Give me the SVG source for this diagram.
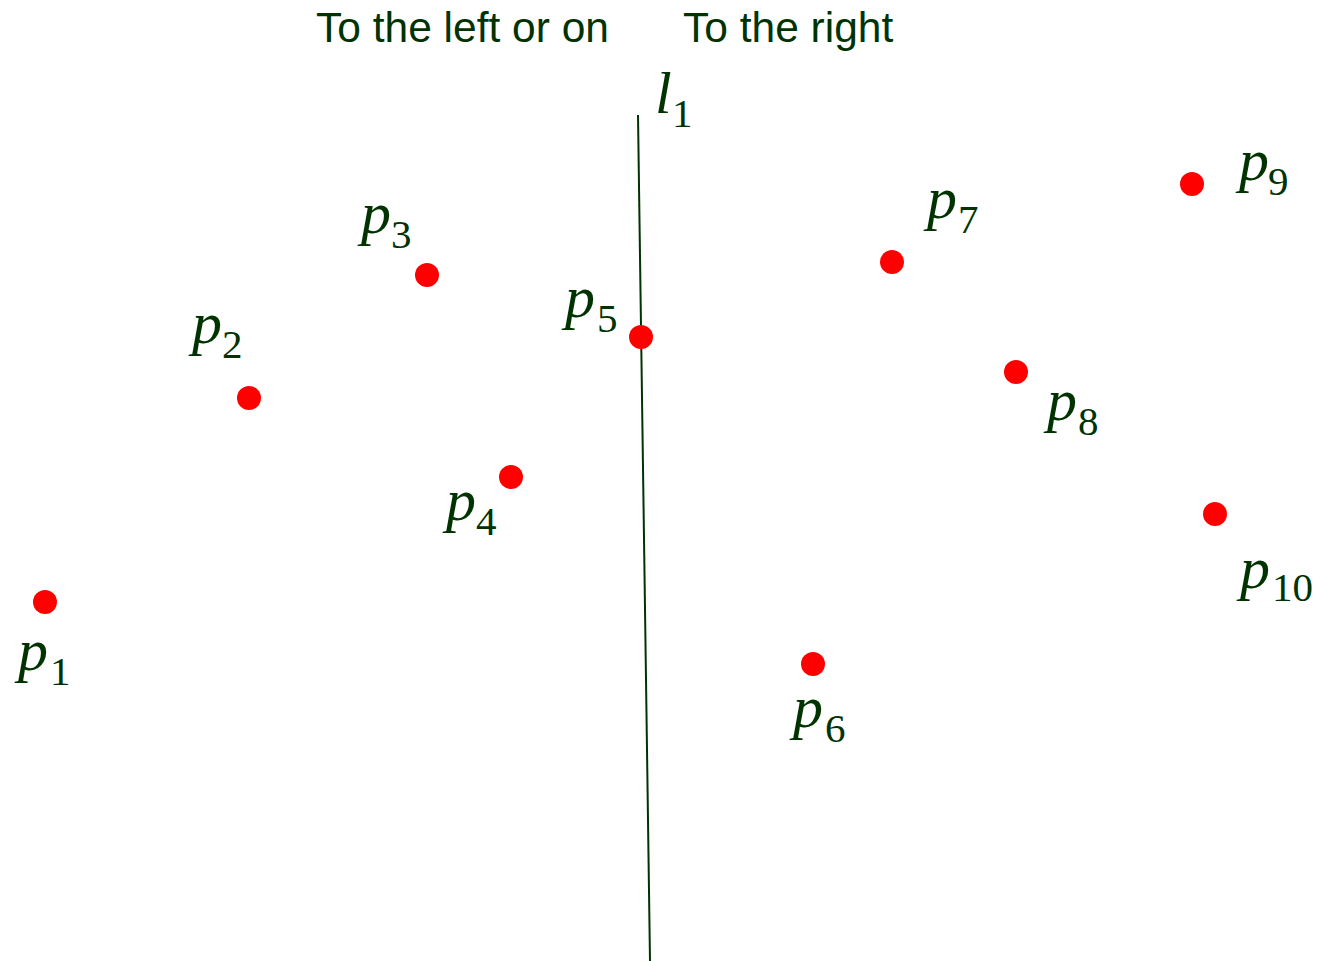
<svg xmlns="http://www.w3.org/2000/svg" width="1326" height="961" viewBox="0 0 1326 961">
<style>
.hdr{font-family:"Liberation Sans",Arial,sans-serif;font-size:42.5px;fill:#003300}
.m{font-family:"Liberation Serif","DejaVu Serif",serif;font-style:italic;font-size:60px;fill:#003300}
.s{font-family:"Liberation Serif","DejaVu Serif",serif;font-style:normal;font-size:41px;fill:#003300}
.pt{fill:#ff0000}
</style>
<rect width="1326" height="961" fill="#ffffff"/>
<text class="hdr" x="316" y="42">To the left or on</text>
<text class="hdr" x="683" y="42">To the right</text>
<g id="connectors">
<line x1="638" y1="115" x2="650" y2="961" stroke="#003300" stroke-width="2"/>
</g>
<g id="l1"><text class="m" x="655" y="113">l<tspan class="s" x="672" y="127">1</tspan></text></g>
<g id="p1"><circle class="pt" cx="45" cy="602" r="12"/><text class="m" x="18" y="670">p<tspan class="s" x="50" y="685">1</tspan></text></g>
<g id="p2"><circle class="pt" cx="249" cy="398" r="12"/><text class="m" x="192" y="343">p<tspan class="s" x="222" y="358">2</tspan></text></g>
<g id="p3"><circle class="pt" cx="427" cy="275" r="12"/><text class="m" x="361" y="233">p<tspan class="s" x="391" y="248">3</tspan></text></g>
<g id="p4"><circle class="pt" cx="511" cy="477" r="12"/><text class="m" x="446" y="520">p<tspan class="s" x="476" y="535">4</tspan></text></g>
<g id="p5"><circle class="pt" cx="641" cy="337" r="12"/><text class="m" x="565" y="317">p<tspan class="s" x="597" y="332">5</tspan></text></g>
<g id="p6"><circle class="pt" cx="813" cy="664" r="12"/><text class="m" x="793" y="727">p<tspan class="s" x="825" y="742">6</tspan></text></g>
<g id="p7"><circle class="pt" cx="892" cy="262" r="12"/><text class="m" x="927" y="218">p<tspan class="s" x="958" y="233">7</tspan></text></g>
<g id="p8"><circle class="pt" cx="1016" cy="372" r="12"/><text class="m" x="1047" y="420">p<tspan class="s" x="1078" y="435">8</tspan></text></g>
<g id="p9"><circle class="pt" cx="1192" cy="184" r="12"/><text class="m" x="1239" y="180">p<tspan class="s" x="1268" y="195">9</tspan></text></g>
<g id="p10"><circle class="pt" cx="1215" cy="514" r="12"/><text class="m" x="1240" y="588">p<tspan class="s" x="1272" y="601">10</tspan></text></g>
</svg>
